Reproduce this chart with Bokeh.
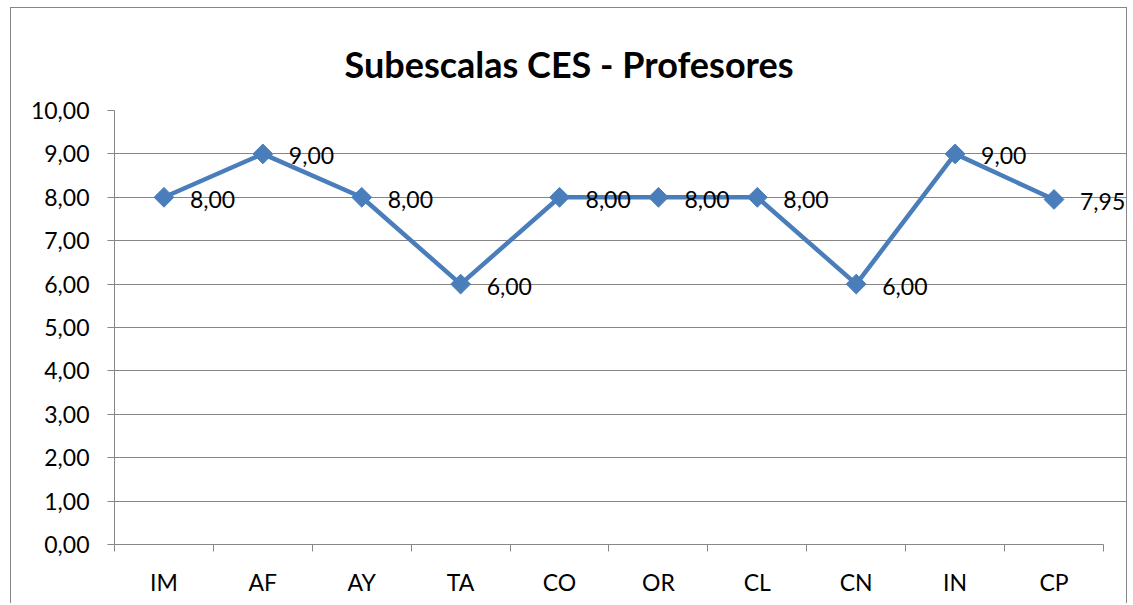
import numpy as np
from bokeh.plotting import figure
from bokeh.models import FixedTicker, ColumnDataSource, Range1d, Label
from bokeh.embed import file_html
from bokeh.resources import INLINE

categories = ["IM", "AF", "AY", "TA", "CO", "OR", "CL", "CN", "IN", "CP"]
values = [8.00, 9.00, 8.00, 6.00, 8.00, 8.00, 8.00, 6.00, 9.00, 7.95]
y_ticks = [0, 1, 2, 3, 4, 5, 6, 7, 8, 9, 10]
title_text = "Subescalas CES - Profesores"

def fmt(v):
    return f"{v:.2f}".replace(".", ",")

FONT = "Lato"
GRID = "#868686"
BLUE = "#4A7EBB"
FS = "23px"

n = len(categories)
xpos = [i + 0.5 for i in range(n)]
src = ColumnDataSource(dict(x=xpos, y=values))

# frame extends past the last category so the data labels are not clipped;
# grid and axis are bounded to the category span
p = figure(width=1117, height=596, output_backend="svg", toolbar_location=None,
           x_range=Range1d(0, n * 1.0243), y_range=Range1d(0, 10),
           min_border_left=103, min_border_right=1, min_border_top=102, min_border_bottom=60,
           title=title_text)
p.styles = {"border": "1px solid #868686", "border-bottom": "none",
            "margin-left": "10px", "margin-top": "7px"}
p.outline_line_color = None
p.background_fill_color = "white"
p.border_fill_color = "white"

p.title.align = "left"
p.title.offset = 230
p.title.text_font = FONT
p.title.text_font_style = "bold"
p.title.text_font_size = "36px"
p.title.text_color = "black"
p.title.standoff = 50

# x axis
p.xaxis.ticker = FixedTicker(ticks=xpos, minor_ticks=list(range(n + 1)))
p.xaxis.bounds = (0, n)
p.xaxis.major_label_overrides = {x: c for x, c in zip(xpos, categories)}
p.xaxis.major_tick_line_color = None
p.xaxis.minor_tick_line_color = GRID
p.xaxis.minor_tick_out = 7
p.xaxis.minor_tick_in = 0
p.xaxis.axis_line_color = GRID
p.xaxis.major_label_text_font = FONT
p.xaxis.major_label_text_font_size = FS
p.xaxis.major_label_text_color = "black"
p.xaxis.major_label_standoff = 16
p.xgrid.grid_line_color = None

# y axis
p.yaxis.ticker = FixedTicker(ticks=y_ticks, minor_ticks=[])
p.yaxis.major_label_overrides = {t: fmt(t) for t in y_ticks}
p.yaxis.axis_line_color = GRID
p.yaxis.major_tick_line_color = GRID
p.yaxis.major_tick_out = 7
p.yaxis.major_tick_in = 0
p.yaxis.major_label_text_font = FONT
p.yaxis.major_label_text_font_size = FS
p.yaxis.major_label_text_color = "black"
p.yaxis.major_label_standoff = 18
p.ygrid.grid_line_color = GRID
p.ygrid.grid_line_width = 1
p.ygrid.bounds = (0, n)

p.line("x", "y", source=src, line_color=BLUE, line_width=4.5)
p.scatter("x", "y", source=src, marker="square", angle=np.pi / 4, size=14,
          fill_color=BLUE, line_color=BLUE)

for x, v in zip(xpos, values):
    p.add_layout(Label(x=x, y=v, text=fmt(v), x_offset=26, y_offset=-2,
                       text_baseline="middle", text_align="left", text_font=FONT,
                       text_font_size=FS, text_color="black"))

open("out.html", "w").write(file_html(p, INLINE))
